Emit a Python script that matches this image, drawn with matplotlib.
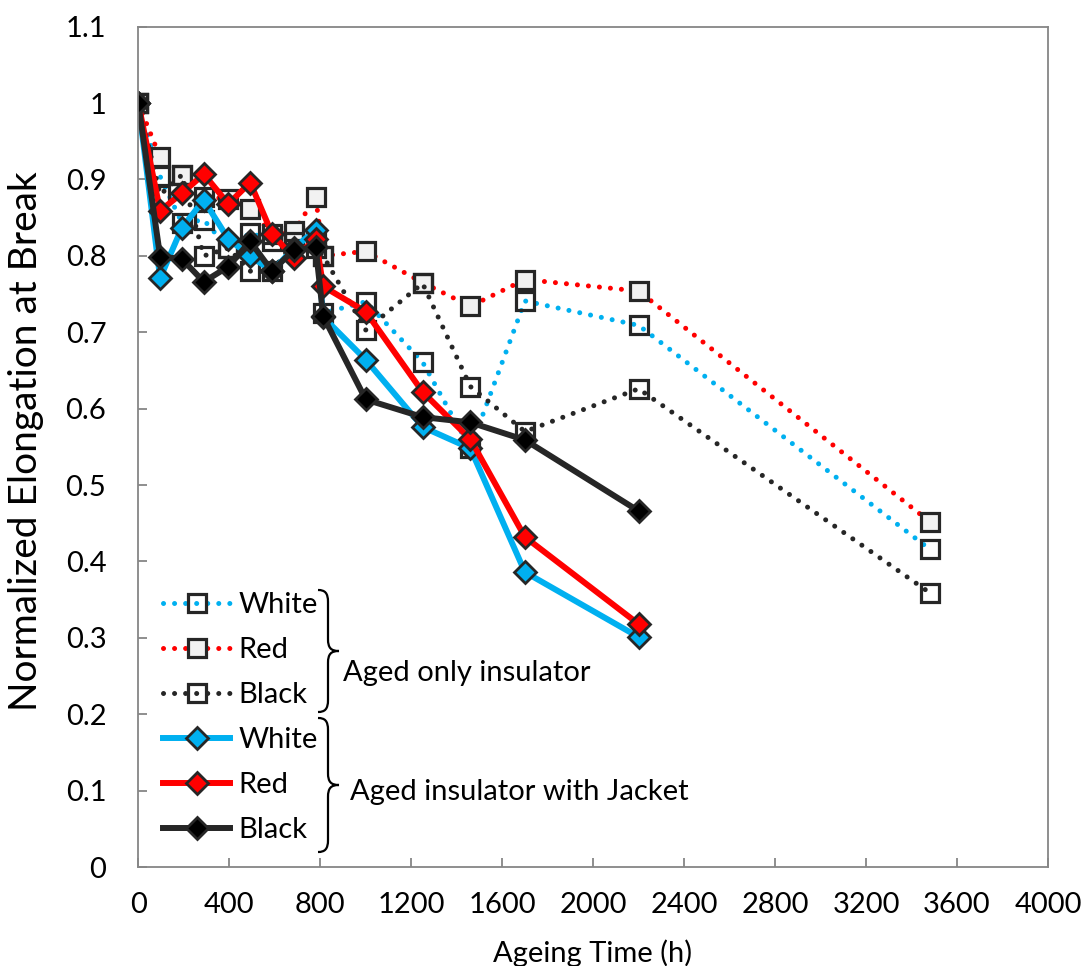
import matplotlib.pyplot as plt
from matplotlib.path import Path
import matplotlib.patches as patches

plt.rcParams['font.family'] = ['Lato', 'DejaVu Sans']

# ageing times (h)
hours_aged = [0, 96, 192, 288, 396, 492, 588, 684, 780, 813, 1000, 1250, 1460, 1700, 2200, 3480]
hours_jacket = [0, 96, 192, 288, 396, 492, 588, 684, 780, 813, 1000, 1250, 1460, 1700, 2200]

# aged only insulator
white_aged = [1.0, 0.904, 0.843, 0.847, 0.81, 0.83, 0.82, 0.826, 0.823, 0.725, 0.74, 0.661, 0.548, 0.741, 0.709, 0.416]
red_aged = [1.0, 0.929, 0.906, 0.877, 0.875, 0.862, 0.828, 0.832, 0.877, 0.80, 0.806, 0.765, 0.734, 0.769, 0.754, 0.452]
black_aged = [1.0, 0.88, 0.906, 0.80, 0.81, 0.78, 0.78, 0.818, 0.81, 0.80, 0.703, 0.764, 0.629, 0.57, 0.626, 0.359]

# aged insulator with jacket
white_jacket = [1.0, 0.771, 0.837, 0.873, 0.822, 0.80, 0.78, 0.81, 0.834, 0.72, 0.664, 0.576, 0.548, 0.386, 0.301]
red_jacket = [1.0, 0.859, 0.882, 0.907, 0.868, 0.896, 0.829, 0.797, 0.822, 0.76, 0.727, 0.622, 0.56, 0.432, 0.318]
black_jacket = [1.0, 0.799, 0.796, 0.766, 0.786, 0.819, 0.78, 0.808, 0.811, 0.721, 0.612, 0.589, 0.582, 0.559, 0.466]

BLUE = '#00B0F0'
RED = '#FF0000'
DARK = '#262626'
W, H = 1083, 966
FS = 21

fig = plt.figure(figsize=(W / 100, H / 100), dpi=100)
ax = fig.add_axes([138.3 / W, 1 - 867 / H, (1048 - 138.3) / W, (867 - 26.7) / H])

dot = dict(linestyle=(0, (0.01, 2.2)), dash_capstyle='round', linewidth=3.6,
           marker='s', markersize=13, markeredgewidth=2.3, markeredgecolor=DARK)
l1, = ax.plot(hours_aged, white_aged, color=BLUE, markerfacecolor='none', label='White', **dot)
l2, = ax.plot(hours_aged, red_aged, color=RED, markerfacecolor='#F2F2F2', label='Red', **dot)
l3, = ax.plot(hours_aged, black_aged, color=DARK, markerfacecolor='none', label='Black', **dot)

solid = dict(linewidth=4.3, marker='D', markersize=11, markeredgewidth=2, markeredgecolor=DARK,
             solid_joinstyle='round')
l4, = ax.plot(hours_jacket, white_jacket, color=BLUE, markerfacecolor=BLUE, label='White', **solid)
l5, = ax.plot(hours_jacket, red_jacket, color=RED, markerfacecolor=RED, label='Red', **solid)
l6, = ax.plot(hours_jacket, black_jacket, color=DARK, markerfacecolor='black', label='Black', **solid)

ax.set_xlim(0, 4000)
ax.set_ylim(0, 1.1)
ax.set_xticks(range(0, 4001, 400))
ax.set_yticks([i / 10 for i in range(12)])
ax.set_yticklabels(['0', '0.1', '0.2', '0.3', '0.4', '0.5', '0.6', '0.7', '0.8', '0.9', '1', '1.1'])
for s in ax.spines.values():
    s.set_color('#868686')
    s.set_linewidth(1.3)
ax.tick_params(axis='both', direction='in', length=6.5, width=1.3, color='#868686',
               labelsize=FS, labelcolor='black')
ax.tick_params(axis='x', pad=18)
ax.tick_params(axis='y', pad=23)

fig.text(37 / W, 1 - 441 / H, 'Normalized Elongation at Break', rotation=90, rotation_mode='anchor',
         ha='center', va='baseline', fontsize=28)
fig.text(593 / W, 1 - 962 / H, 'Ageing Time (h)', ha='center', va='baseline', fontsize=FS)

ax.legend(handles=[l1, l2, l3, l4, l5, l6], loc='upper left',
          bbox_to_anchor=(163 / W, 1 - 592 / H), bbox_transform=fig.transFigure,
          frameon=False, borderpad=0, borderaxespad=0, fontsize=FS,
          handlelength=2.3, handletextpad=0.28, labelspacing=0.65)


def brace(top, bot, x0=318, x1=328, tip=339, r=12):
    mid = (top + bot) / 2
    pts = [(x0, top), (x0 + 7, top), (x1, top + 3), (x1, top + r),
           (x1, mid - r),
           (x1, mid - 3), (x1 + 3, mid), (tip, mid),
           (x1 + 3, mid), (x1, mid + 3), (x1, mid + r),
           (x1, bot - r),
           (x1, bot - 3), (x0 + 7, bot), (x0, bot)]
    codes = [Path.MOVETO, Path.CURVE4, Path.CURVE4, Path.CURVE4, Path.LINETO,
             Path.CURVE4, Path.CURVE4, Path.CURVE4, Path.CURVE4, Path.CURVE4, Path.CURVE4,
             Path.LINETO, Path.CURVE4, Path.CURVE4, Path.CURVE4]
    verts = [(x / W, 1 - y / H) for x, y in pts]
    fig.add_artist(patches.PathPatch(Path(verts, codes), transform=fig.transFigure,
                                     fill=False, edgecolor='black', linewidth=1.6))


brace(590, 712)
brace(718, 852)
fig.text(343 / W, 1 - 673 / H, 'Aged only insulator', ha='left', va='center', fontsize=FS)
fig.text(350 / W, 1 - 792 / H, 'Aged insulator with Jacket', ha='left', va='center', fontsize=FS)

fig.savefig('out.png', dpi=100)
